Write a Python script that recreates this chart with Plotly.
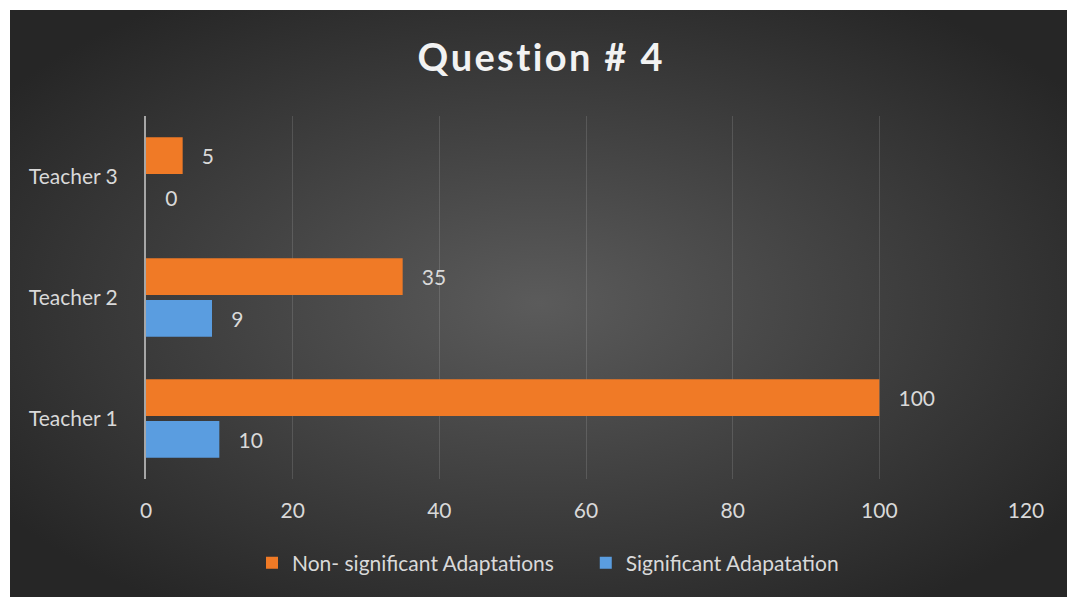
import base64
import plotly.graph_objects as go

# Chart data
teachers = ["Teacher 1", "Teacher 2", "Teacher 3"]
non_significant = [100, 35, 5]
significant = [10, 9, 0]
x_ticks = [0, 20, 40, 60, 80, 100, 120]

FONT = "Lato, 'Open Sans', sans-serif"
TEXT_COLOR = "#d9d9d9"

# Radial dark-grey backdrop as an inline SVG image
bg_svg = (
    "<svg xmlns='http://www.w3.org/2000/svg' width='1057' height='587' "
    "viewBox='0 0 1057 587' preserveAspectRatio='none'>"
    "<defs><radialGradient id='g' cx='0.5' cy='0.5' r='0.62'>"
    "<stop offset='0' stop-color='#5b5b5b'/>"
    "<stop offset='1' stop-color='#262626'/>"
    "</radialGradient></defs>"
    "<rect width='1057' height='587' fill='url(#g)'/></svg>"
)
bg_uri = "data:image/svg+xml;base64," + base64.b64encode(bg_svg.encode()).decode()

pad = "\u00a0\u00a0\u00a0"
# spaced-out title lettering
title_text = "\u200a".join("Question # 4")

fig = go.Figure()
fig.add_trace(go.Bar(
    y=teachers, x=significant, orientation="h",
    name="Significant Adapatation",
    marker=dict(color="#5a9de0", line=dict(width=0)),
    text=[pad + str(v) for v in significant],
    textposition="outside", cliponaxis=False,
    textfont=dict(family=FONT, size=21, color=TEXT_COLOR),
    legendrank=2,
))
fig.add_trace(go.Bar(
    y=teachers, x=non_significant, orientation="h",
    name="Non- significant Adaptations" + "\u00a0" * 5,
    marker=dict(color="#f07a26", line=dict(width=0)),
    text=[pad + str(v) for v in non_significant],
    textposition="outside", cliponaxis=False,
    textfont=dict(family=FONT, size=21, color=TEXT_COLOR),
    legendrank=1,
))

L, R, T, B = 146, 41, 116, 118
W, H = 1067, 597
pw, ph = W - L - R, H - T - B

fig.update_layout(
    width=W, height=H,
    margin=dict(l=L, r=R, t=T, b=B, pad=0),
    paper_bgcolor="white",
    plot_bgcolor="rgba(0,0,0,0)",
    barmode="group",
    bargap=0.31,
    bargroupgap=0.12,
    title=dict(
        text="<b>" + title_text + "</b>",
        x=540 / W, xanchor="center",
        y=1 - 58 / H, yanchor="middle",
        font=dict(family=FONT, size=38, color="#f2f2f2"),
    ),
    font=dict(family=FONT, color=TEXT_COLOR),
    legend=dict(
        orientation="h",
        x=(548 - L) / pw, xanchor="center",
        y=(H - B - 563) / ph, yanchor="middle",
        font=dict(family=FONT, size=21, color=TEXT_COLOR),
        bgcolor="rgba(0,0,0,0)",
        itemwidth=30,
    ),
    xaxis=dict(
        range=[0, 120], tickvals=x_ticks,
        showgrid=True, gridcolor="rgba(255,255,255,0.13)", gridwidth=1,
        zeroline=False, showline=False,
        ticks="outside", ticklen=13, tickcolor="rgba(0,0,0,0)",
        tickfont=dict(family=FONT, size=21, color=TEXT_COLOR),
        fixedrange=True,
    ),
    yaxis=dict(
        categoryorder="array", categoryarray=teachers,
        showgrid=False, zeroline=False,
        showline=True, linecolor="#a6a6a6", linewidth=2,
        ticks="outside", ticklen=22, tickcolor="rgba(0,0,0,0)",
        tickfont=dict(family=FONT, size=21, color=TEXT_COLOR),
        fixedrange=True,
    ),
    images=[dict(
        source=bg_uri, xref="paper", yref="paper",
        x=(10 - L) / pw, y=(H - B - 10) / ph,
        sizex=(W - 10) / pw, sizey=(H - 10) / ph,
        xanchor="left", yanchor="top",
        sizing="stretch", layer="below",
    )],
)

fig.write_html("out.html")
